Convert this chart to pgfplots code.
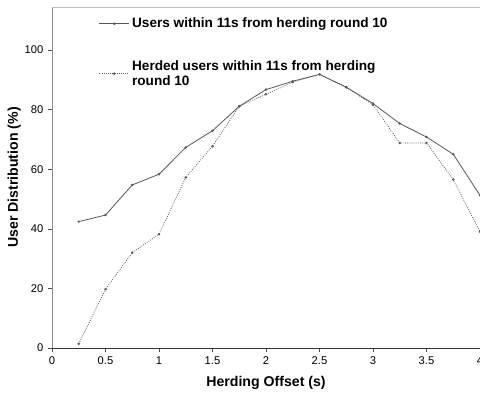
\documentclass[border=0pt]{standalone}
\usepackage{pgfplots}
\pgfplotsset{compat=1.18}
\usepackage{fontspec}
\setmainfont{Liberation Sans}
\begin{document}
\begin{tikzpicture}
\begin{axis}[
  scale only axis,
  width=321pt, height=255.75pt,
  xmin=0, xmax=4, ymin=0, ymax=114.4,
  xtick={0,0.5,1,1.5,2,2.5,3,3.5,4},
  xticklabels={0,0.5,1,1.5,2,2.5,3,3.5,4},
  ytick={0,20,40,60,80,100},
  axis x line*=bottom, axis y line*=left,
  x axis line style={black!80, -},
  y axis line style={black!45, -},
  tick style={black!70},
  major tick length=3pt,
  xtick align=outside, ytick align=outside,
  /pgf/number format/assume math mode=true,
  tick label style={font=\fontsize{8.4}{9}\selectfont},
  label style={font=\fontsize{10.6}{12}\selectfont\bfseries},
  xlabel={Herding Offset (s)},
  ylabel={User Distribution (\%)},
  xlabel style={yshift=-2pt},
  ylabel style={yshift=-4pt},
  clip=false,
  legend style={draw=none, fill=none, at={(0.1,0.985)}, anchor=north west,
    font=\fontsize{10.2}{11.2}\selectfont\bfseries, row sep=19pt,
    cells={align=left}},
  legend cell align=left,
  legend image post style={xscale=1.3},
]
\addplot[black!65, line width=0.6pt, mark=*, mark size=0.6pt] coordinates {
(0.25,42.4) (0.5,44.6) (0.75,54.7) (1,58.3) (1.25,67.3) (1.5,72.9) (1.75,81.1)
(2,86.7) (2.25,89.5) (2.5,91.8) (2.75,87.5) (3,82) (3.25,75.3) (3.5,70.8)
(3.75,65) (4,51.2)};
\addlegendentry{Users within 11s from herding round 10}
\addplot[black!65, line width=0.6pt, densely dotted, mark=*, mark size=0.6pt, mark options={solid}] coordinates {
(0.25,1.4) (0.5,19.7) (0.75,32) (1,38.2) (1.25,57.2) (1.5,67.7) (1.75,81.1)
(2,85.1) (2.25,89.2) (2.5,91.8) (2.75,87.5) (3,81.6) (3.25,68.8) (3.5,68.8)
(3.75,56.5) (4,39)};
\addlegendentry{Herded users within 11s from herding\\round 10}
\draw[black!25, line width=0.6pt] (rel axis cs:0,1) -- (rel axis cs:1,1);
\end{axis}
\pgfresetboundingbox
\useasboundingbox (current axis.south west) ++(-39pt,-36.75pt) rectangle ([yshift=5.25pt]current axis.north east);
\end{tikzpicture}
\end{document}
